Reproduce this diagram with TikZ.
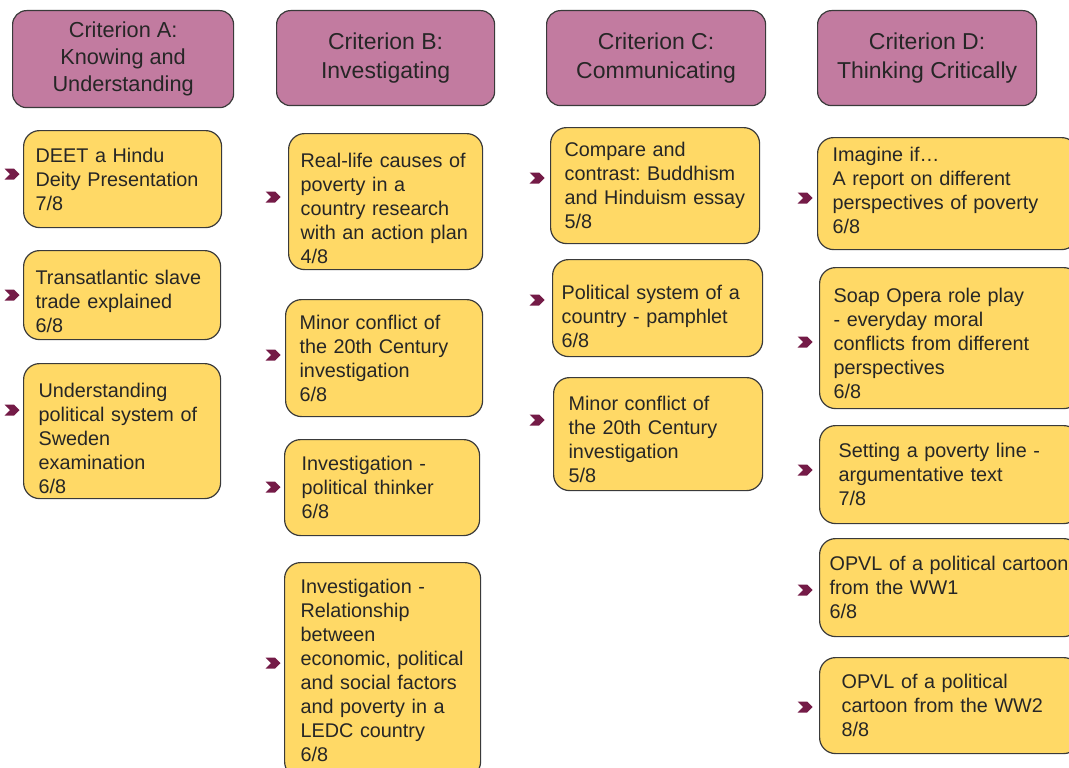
\documentclass[tikz,border=0pt]{standalone}
\usepackage{fontspec}
\setmainfont{Liberation Sans}
\usetikzlibrary{shapes.symbols}
\definecolor{critfill}{HTML}{C27BA0}
\definecolor{taskfill}{HTML}{FFD966}
\definecolor{bullet}{HTML}{741B47}
\definecolor{boxline}{HTML}{3A3A3A}
\frenchspacing

\begin{document}
\begin{tikzpicture}[x=1pt,y=-1pt,
    crit/.style={draw=boxline, fill=critfill, rounded corners=14pt, anchor=north west,
                 align=center, line width=1.2pt, inner sep=0pt, text=black!85,
                 font=\fontsize{23}{29}\selectfont},
    task/.style={draw=boxline, fill=taskfill, rounded corners=16pt, anchor=north west,
                 align=left, line width=1.2pt, inner xsep=2pt, inner ysep=0pt, text=black!85,
                 font=\fontsize{19.8}{24}\selectfont},
    pad/.style={execute at begin node={\leftskip=#1pt}},
    tick/.style={signal, signal from=west, signal to=east, fill=bullet,
                 minimum width=15pt, minimum height=11pt, inner sep=0pt}]
                \useasboundingbox (0,0) rectangle (1069,768);
                \clip (0,0) rectangle (1069,768);

                % headers
                \node[crit, minimum width=221pt, minimum height=97pt,
                      font=\fontsize{21.7}{27}\selectfont] (crita) at (12,10) {Criterion A:\\Knowing and\\Understanding};
                \node[crit, minimum width=218pt, minimum height=95pt] (critb) at (276,10) {Criterion B:\\Investigating};
                \node[crit, minimum width=219pt, minimum height=95pt] (critc) at (546,10) {Criterion C:\\Communicating};
                \node[crit, minimum width=219pt, minimum height=95pt] (critd) at (817,10) {Criterion D:\\Thinking Critically};

                % criterion A
                \node[task, pad=10, text width=194pt, minimum height=97pt] (a1) at (23,130) {DEET a Hindu\\Deity Presentation\\7/8};
                \node[task, pad=10, text width=193pt, minimum height=89pt, text height=26pt] (a2) at (23,250) {Transatlantic slave\\trade explained\\6/8};
                \node[task, pad=13, text width=193pt, minimum height=135pt, text height=28pt] (a3) at (23,363) {Understanding\\political system of\\Sweden\\examination\\6/8};

                % criterion B
                \node[task, pad=10, text width=190pt, minimum height=136pt, text height=28pt] (b1) at (288,133) {Real-life causes of\\poverty in a\\country research\\with an action plan\\4/8};
                \node[task, pad=12, text width=193pt, minimum height=117pt] (b2) at (285,299) {Minor conflict of\\the 20th Century\\investigation\\6/8};
                \node[task, pad=15, text width=191pt, minimum height=96pt] (b3) at (284,439) {Investigation -\\political thinker\\6/8};
                \node[task, pad=14, text width=192pt, minimum height=215pt] (b4) at (284,562) {Investigation -\\Relationship\\between\\economic, political\\and social factors\\and poverty in a\\LEDC country\\6/8};

                % criterion C
                \node[task, pad=12, text width=205pt, minimum height=116pt] (c1) at (550,127) {Compare and\\contrast: Buddhism\\and Hinduism essay\\5/8};
                \node[task, pad=7, text width=206pt, minimum height=97pt, text height=30pt] (c2) at (552,259) {Political system of a\\country - pamphlet\\6/8};
                \node[task, pad=13, text width=205pt, minimum height=113pt, text height=24pt] (c3) at (553,377) {Minor conflict of\\the 20th Century\\investigation\\5/8};

                % criterion D
                \node[task, pad=13, text width=256pt, minimum height=112pt, text height=7pt] (d1) at (817,137) {Imagine if…\\A report on different\\perspectives of poverty\\6/8};
                \node[task, pad=12, text width=256pt, minimum height=141pt, text height=24pt] (d2) at (819,267) {Soap Opera role play\\- everyday moral\\conflicts from different\\perspectives\\6/8};
                \node[task, pad=17, text width=256pt, minimum height=98pt] (d3) at (819,425) {Setting a poverty line -\\argumentative text\\7/8};
                \node[task, pad=8, text width=256pt, minimum height=98pt] (d4) at (819,538) {OPVL of a political cartoon\\from the WW1\\6/8};
                \node[task, pad=20, text width=256pt, minimum height=96pt] (d5) at (819,657) {OPVL of a political\\cartoon from the WW2\\8/8};

                % bullets
                \node[tick] (ta1) at (12,174) {};
                \node[tick] (ta2) at (12,295) {};
                \node[tick] (ta3) at (12,410) {};
                \node[tick] (tb1) at (273,197) {};
                \node[tick] (tb2) at (273,355) {};
                \node[tick] (tb3) at (273,487) {};
                \node[tick] (tb4) at (273,663) {};
                \node[tick] (tc1) at (537,178) {};
                \node[tick] (tc2) at (537,300) {};
                \node[tick] (tc3) at (537,420) {};
                \node[tick] (td1) at (805,198) {};
                \node[tick] (td2) at (805,342) {};
                \node[tick] (td3) at (805,470) {};
                \node[tick] (td4) at (805,590) {};
                \node[tick] (td5) at (805,707) {};
\end{tikzpicture}
\end{document}
